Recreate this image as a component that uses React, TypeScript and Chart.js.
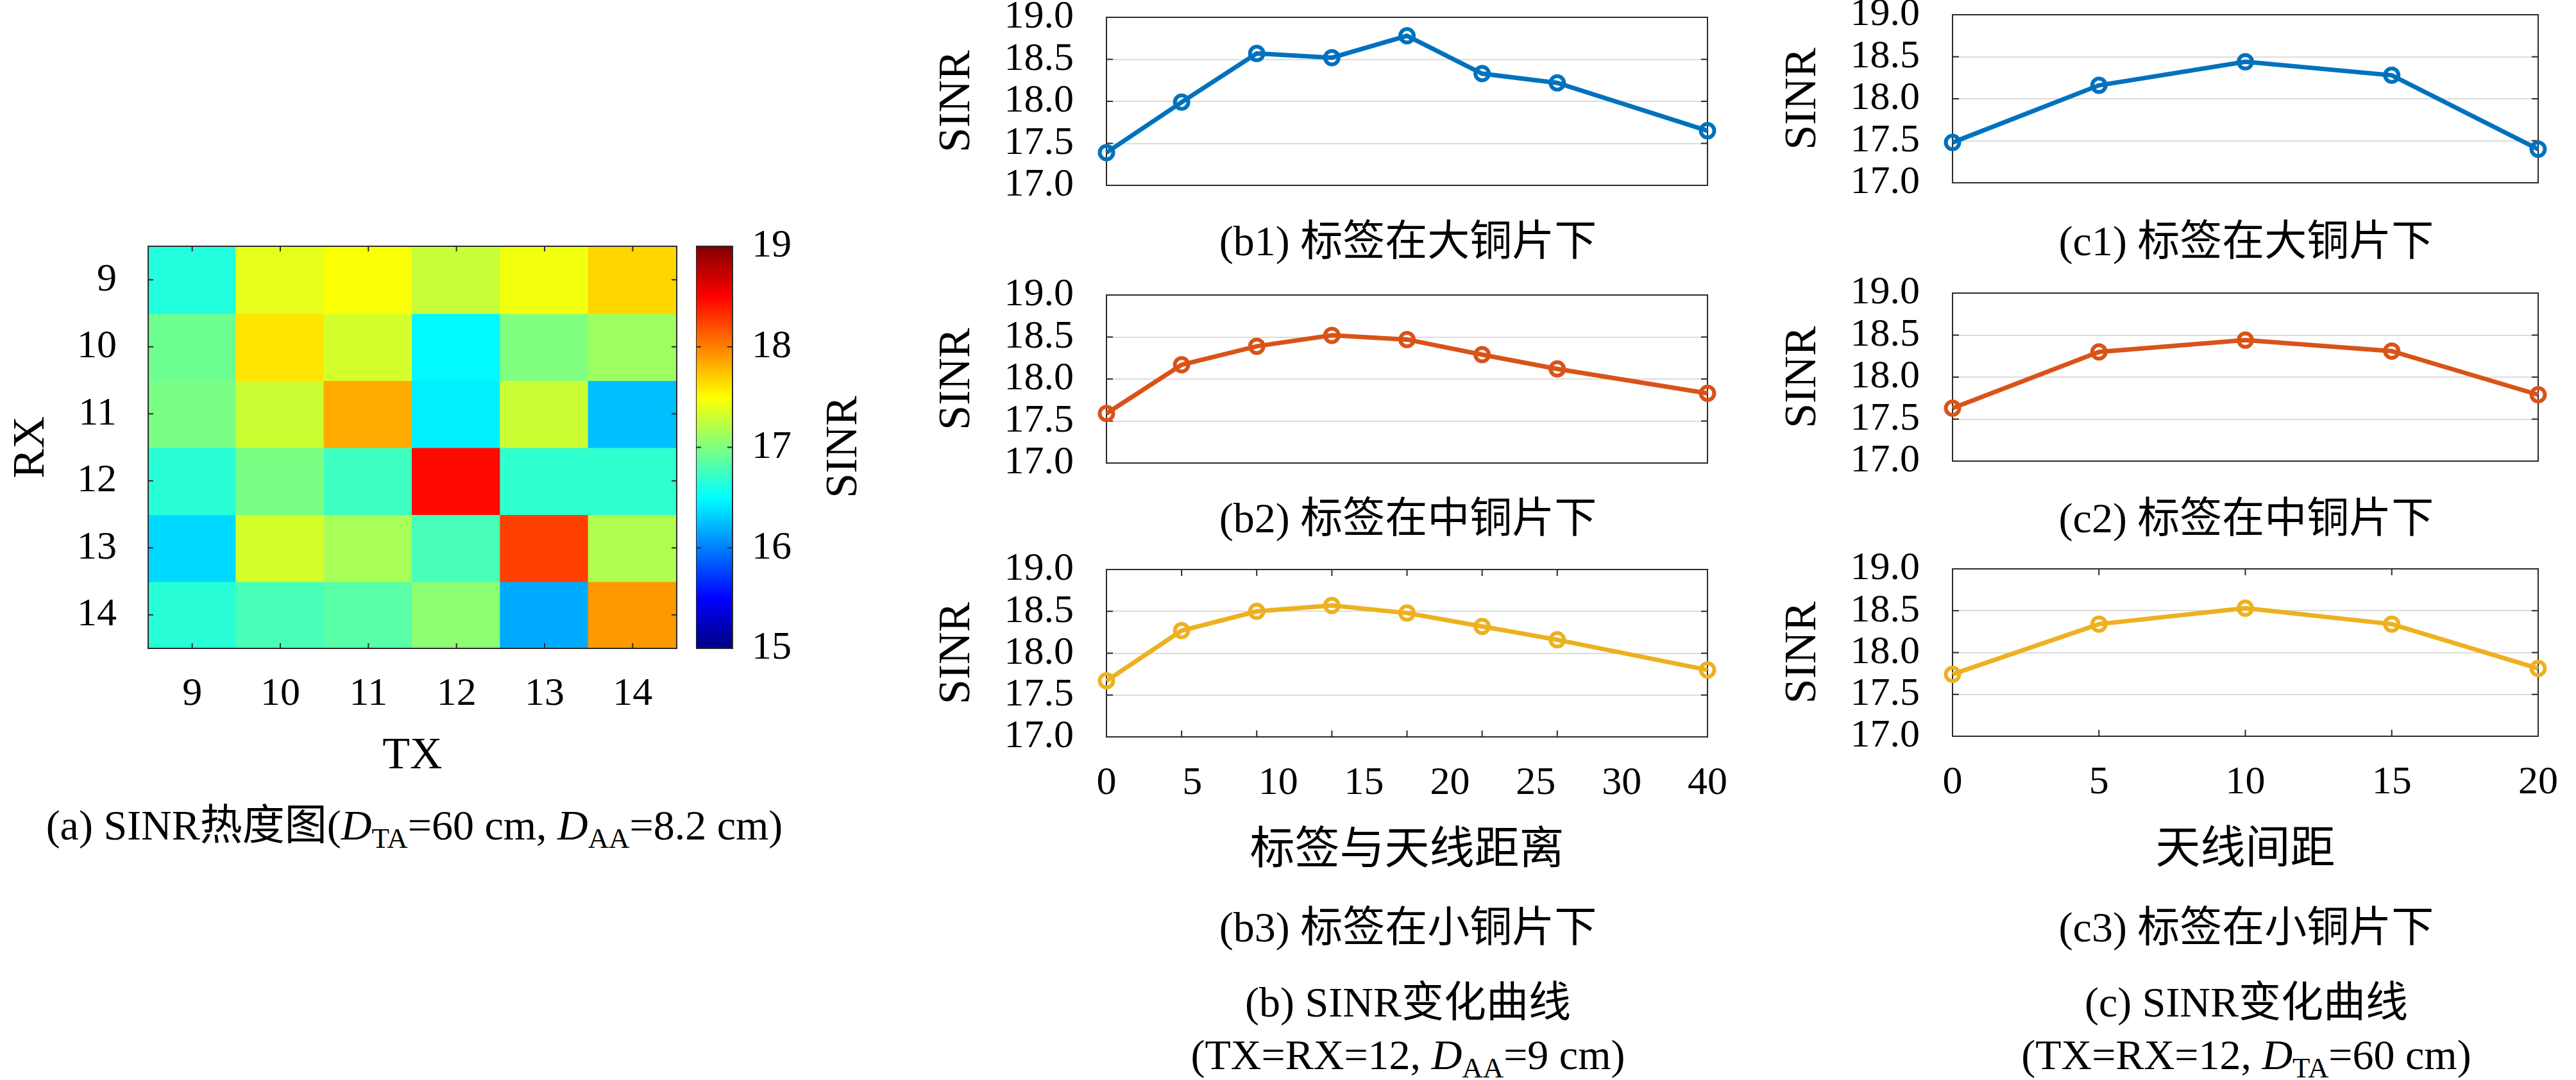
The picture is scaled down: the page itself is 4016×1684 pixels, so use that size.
import React, { useEffect, useRef } from 'react';
import { Chart, registerables } from 'chart.js';

Chart.register(...registerables);

// ---------------- data ----------------
const TX_LABELS = ['9', '10', '11', '12', '13', '14'];
const RX_LABELS = ['9', '10', '11', '12', '13', '14'];
const SINR_RX9 = [16.63, 17.4, 17.48, 17.28, 17.45, 17.66];
const SINR_RX10 = [16.93, 17.6, 17.33, 16.48, 17.0, 17.12];
const SINR_RX11 = [16.98, 17.3, 17.83, 16.44, 17.3, 16.25];
const SINR_RX12 = [16.66, 16.98, 16.74, 18.46, 16.69, 16.69];
const SINR_RX13 = [16.35, 17.33, 17.16, 16.78, 18.25, 17.19];
const SINR_RX14 = [16.66, 16.78, 16.85, 17.05, 16.17, 17.9];
const SINR_GRID = [SINR_RX9, SINR_RX10, SINR_RX11, SINR_RX12, SINR_RX13, SINR_RX14];
const CBAR_RANGE = [15, 19];

const DIST_TAG_ANT = [0, 5, 10, 15, 20, 25, 30, 40];
const DIST_TICK_LABELS = ['0', '5', '10', '15', '20', '25', '30', '40'];
const SINR_B1 = [17.39, 17.99, 18.57, 18.52, 18.78, 18.33, 18.22, 17.65];
const SINR_B2 = [17.59, 18.17, 18.39, 18.52, 18.47, 18.29, 18.12, 17.83];
const SINR_B3 = [17.67, 18.27, 18.5, 18.57, 18.48, 18.32, 18.16, 17.8];

const ANT_SPACING = [0, 5, 10, 15, 20];
const SPACING_TICK_LABELS = ['0', '5', '10', '15', '20'];
const SINR_C1 = [17.48, 18.16, 18.44, 18.28, 17.4];
const SINR_C2 = [17.63, 18.3, 18.44, 18.31, 17.79];
const SINR_C3 = [17.74, 18.34, 18.53, 18.34, 17.81];

const SINR_AXIS = [17, 19];

// ---------------- style ----------------
const FONT = "'Liberation Serif', 'Noto Sans CJK SC', serif";
const TICK_FONT = { family: FONT, size: 62, lineHeight: 1 };
const TITLE_FONT = { family: FONT, size: 70, lineHeight: 1 };
const BLUE = '#0072BD';
const ORANGE = '#D95319';
const YELLOW = '#EDB120';
const FRAME = '#2b2b2b';
const GRID = '#dcdcdc';

function jet(v: number): string {
  const t = Math.min(1, Math.max(0, (v - CBAR_RANGE[0]) / (CBAR_RANGE[1] - CBAR_RANGE[0])));
  const c = (x: number) => Math.round(255 * Math.min(1, Math.max(0, x)));
  const r = c(Math.min(4 * t - 1.5, -4 * t + 4.5));
  const g = c(Math.min(4 * t - 0.5, -4 * t + 3.5));
  const b = c(Math.min(4 * t + 0.5, -4 * t + 2.5));
  return `rgb(${r},${g},${b})`;
}

function framePlugin(
  getX: (c: any) => number[],
  getY: (c: any) => number[],
  len: number,
  after: boolean
) {
  const draw = (chart: any) => {
    const { ctx, chartArea: a } = chart;
    ctx.save();
    ctx.strokeStyle = FRAME;
    ctx.lineWidth = 2;
    ctx.beginPath();
    for (const px of getX(chart)) {
      ctx.moveTo(px, a.top);
      ctx.lineTo(px, a.top + len);
      ctx.moveTo(px, a.bottom);
      ctx.lineTo(px, a.bottom - len);
    }
    for (const py of getY(chart)) {
      ctx.moveTo(a.left, py);
      ctx.lineTo(a.left + len, py);
      ctx.moveTo(a.right, py);
      ctx.lineTo(a.right - len, py);
    }
    ctx.stroke();
    ctx.strokeRect(a.left, a.top, a.right - a.left, a.bottom - a.top);
    ctx.restore();
  };
  return after
    ? { id: 'frame', afterDatasetsDraw: draw }
    : { id: 'frame', beforeDatasetsDraw: draw };
}

function ChartBox(props: { left: number; top: number; width: number; height: number; make: (c: HTMLCanvasElement) => Chart }) {
  const ref = useRef<HTMLCanvasElement>(null);
  useEffect(() => {
    const chart = props.make(ref.current as HTMLCanvasElement);
    return () => chart.destroy();
  }, []);
  return (
    <div style={{ position: 'absolute', left: props.left, top: props.top, width: props.width, height: props.height }}>
      <canvas ref={ref} width={props.width} height={props.height} style={{ width: props.width, height: props.height, display: 'block' }} />
    </div>
  );
}

type LineSpec = {
  plotLeft: number;
  plotRight: number;
  plotTop: number;
  plotBottom: number;
  xs: number[];
  ys: number[];
  color: string;
  xLabels?: string[];
  xTitle?: string;
};

function LinePanel(p: LineSpec) {
  const AXW = 285;
  const PADR = 50;
  const padTop = Math.min(p.plotTop, 40);
  const axisH = p.xLabels ? 215 : 0;
  const padBottom = p.xLabels ? 20 : 36;
  const left = p.plotLeft - AXW;
  const top = p.plotTop - padTop;
  const width = p.plotRight - left + PADR;
  const height = p.plotBottom - top + axisH + padBottom;
  const xMax = p.xs[p.xs.length - 1];
  const innerX = p.xLabels ? p.xs.slice(1, -1) : [];
  const make = (canvas: HTMLCanvasElement) =>
    new Chart(canvas, {
      type: 'line',
      data: {
        datasets: [
          {
            data: p.xs.map((x, i) => ({ x, y: p.ys[i] })),
            borderColor: p.color,
            borderWidth: 7,
            pointRadius: 10.5,
            pointBorderWidth: 6,
            pointBorderColor: p.color,
            pointBackgroundColor: 'rgba(0,0,0,0)',
            tension: 0,
            clip: false,
            xAxisID: 'x',
            yAxisID: 'y',
          } as any,
        ],
      },
      options: {
        animation: false,
        responsive: false,
        events: [],
        layout: { padding: { left: 0, top: padTop, right: PADR, bottom: padBottom } },
        plugins: { legend: { display: false }, tooltip: { enabled: false } },
        scales: {
          x: { type: 'linear', min: 0, max: xMax, display: false },
          xl: {
            type: 'category',
            labels: p.xLabels ?? [],
            offset: false,
            position: 'bottom',
            display: !!p.xLabels,
            grid: { display: false, drawTicks: false },
            border: { display: false },
            ticks: { font: TICK_FONT, color: '#000', padding: 42, autoSkip: false, maxRotation: 0, minRotation: 0 },
            title: { display: !!p.xTitle, text: p.xTitle ?? '', font: TITLE_FONT, color: '#000', padding: 0 },
            afterFit: (s: any) => {
              s.height = axisH;
              s.paddingLeft = 0;
              s.paddingRight = 0;
            },
          },
          y: {
            type: 'linear',
            position: 'left',
            min: SINR_AXIS[0],
            max: SINR_AXIS[1],
            ticks: {
              stepSize: 0.5,
              autoSkip: false,
              font: TICK_FONT,
              color: '#000',
              padding: 51,
              callback: (v: any) => Number(v).toFixed(1),
            },
            grid: {
              drawTicks: false,
              lineWidth: 2,
              color: (ctx: any) =>
                ctx.tick && ctx.tick.value > SINR_AXIS[0] && ctx.tick.value < SINR_AXIS[1] ? GRID : 'rgba(0,0,0,0)',
            },
            border: { display: false },
            title: { display: true, text: 'SINR', font: TITLE_FONT, color: '#000', padding: { top: 18, bottom: 0 } },
            afterFit: (s: any) => {
              s.width = AXW;
              s.paddingTop = 0;
              s.paddingBottom = 0;
            },
          },
        },
      } as any,
      plugins: [
        framePlugin(
          (c) => innerX.map((v) => c.scales.x.getPixelForValue(v)),
          (c) => [17.5, 18, 18.5].map((v) => c.scales.y.getPixelForValue(v)),
          10,
          false
        ) as any,
      ],
    });
  return <ChartBox left={left} top={top} width={width} height={height} make={make} />;
}

function Heatmap() {
  const plotLeft = 231, plotRight = 1055, plotTop = 384, plotBottom = 1011;
  const padTop = 40, padRight = 10, padBottom = 10, axisH = 204;
  const left = 0;
  const top = plotTop - padTop;
  const width = plotRight + padRight;
  const height = plotBottom - top + axisH + padBottom;
  const make = (canvas: HTMLCanvasElement) =>
    new Chart(canvas, {
      type: 'bar',
      data: {
        labels: TX_LABELS,
        datasets: RX_LABELS.map((rx, r) => ({
          label: 'RX ' + rx,
          data: TX_LABELS.map(() => 1),
          backgroundColor: SINR_GRID[r].map(jet),
          borderWidth: 0,
          inflateAmount: 1,
          barPercentage: 1,
          categoryPercentage: 1,
          stack: 's',
          xAxisID: 'x',
          yAxisID: 'y',
        })) as any,
      },
      options: {
        animation: false,
        responsive: false,
        events: [],
        layout: { padding: { left: 0, top: padTop, right: padRight, bottom: padBottom } },
        plugins: { legend: { display: false }, tooltip: { enabled: false } },
        scales: {
          x: {
            type: 'category',
            stacked: true,
            offset: true,
            grid: { display: false, drawTicks: false },
            border: { display: false },
            ticks: { font: TICK_FONT, color: '#000', padding: 41, maxRotation: 0, minRotation: 0, autoSkip: false },
            title: { display: true, text: 'TX', font: TITLE_FONT, color: '#000', padding: 0 },
            afterFit: (s: any) => {
              s.height = axisH;
              s.paddingLeft = 0;
              s.paddingRight = 0;
            },
          },
          y: { type: 'linear', stacked: true, min: 0, max: RX_LABELS.length, reverse: true, display: false },
          yl: {
            type: 'category',
            labels: RX_LABELS,
            offset: true,
            position: 'left',
            grid: { display: false, drawTicks: false },
            border: { display: false },
            ticks: { font: TICK_FONT, color: '#000', padding: 49, autoSkip: false },
            title: { display: true, text: 'RX', font: TITLE_FONT, color: '#000', padding: { top: 15, bottom: 0 } },
            afterFit: (s: any) => {
              s.width = plotLeft - left;
              s.paddingTop = 0;
              s.paddingBottom = 0;
            },
          },
        },
      } as any,
      plugins: [
        framePlugin(
          (c) => TX_LABELS.map((_, i) => c.scales.x.getPixelForValue(i)),
          (c) => RX_LABELS.map((_, i) => c.scales.yl.getPixelForValue(i)),
          8,
          true
        ) as any,
      ],
    });
  return <ChartBox left={left} top={top} width={width} height={height} make={make} />;
}

function ColorBar() {
  const plotLeft = 1085, plotRight = 1142, plotTop = 384, plotBottom = 1011;
  const padTop = 40, padBottom = 40, axW = 110;
  const left = plotLeft;
  const top = plotTop - padTop;
  const width = plotRight - plotLeft + axW;
  const height = plotBottom - top + padBottom;
  const make = (canvas: HTMLCanvasElement) =>
    new Chart(canvas, {
      type: 'bar',
      data: {
        labels: ['SINR'],
        datasets: [
          {
            data: [[CBAR_RANGE[0], CBAR_RANGE[1]]],
            backgroundColor: (ctx: any) => {
              const chart = ctx.chart;
              const a = chart.chartArea;
              if (!a) return 'rgba(0,0,0,0)';
              const g = chart.ctx.createLinearGradient(0, a.bottom, 0, a.top);
              const stops = [0, 0.125, 0.375, 0.625, 0.875, 1];
              for (const s of stops) g.addColorStop(s, jet(CBAR_RANGE[0] + s * (CBAR_RANGE[1] - CBAR_RANGE[0])));
              return g;
            },
            borderWidth: 0,
            barPercentage: 1,
            categoryPercentage: 1,
            inflateAmount: 0,
          } as any,
        ],
      },
      options: {
        animation: false,
        responsive: false,
        events: [],
        layout: { padding: { left: 0, top: padTop, right: 0, bottom: padBottom } },
        plugins: { legend: { display: false }, tooltip: { enabled: false } },
        scales: {
          x: { type: 'category', display: false },
          y: {
            type: 'linear',
            position: 'right',
            min: CBAR_RANGE[0],
            max: CBAR_RANGE[1],
            ticks: { stepSize: 1, autoSkip: false, font: TICK_FONT, color: '#000', padding: 30 },
            grid: { display: false, drawTicks: false },
            border: { display: false },
            afterFit: (s: any) => {
              s.width = axW;
              s.paddingTop = 0;
              s.paddingBottom = 0;
            },
          },
        },
      } as any,
      plugins: [
        framePlugin(
          () => [],
          (c) => [16, 17, 18].map((v) => c.scales.y.getPixelForValue(v)),
          8,
          true
        ) as any,
      ],
    });
  return <ChartBox left={left} top={top} width={width} height={height} make={make} />;
}

function Label(props: { cx: number; cy: number; size: number; rotate?: number; children: React.ReactNode }) {
  const W = 2000;
  return (
    <div
      style={{
        position: 'absolute',
        left: props.cx - W / 2,
        top: props.cy - props.size / 2,
        width: W,
        height: props.size,
        fontSize: props.size,
        lineHeight: `${props.size}px`,
        textAlign: 'center',
        whiteSpace: 'nowrap',
        transform: props.rotate ? `rotate(${props.rotate}deg)` : undefined,
        transformOrigin: 'center center',
      }}
    >
      {props.children}
    </div>
  );
}

const Sub = (props: { children: React.ReactNode }) => (
  <sub style={{ fontSize: '0.68em', verticalAlign: '-0.3em', lineHeight: 0 }}>{props.children}</sub>
);

export default function App() {
  const CAP = 66;
  const B_CX = 2195;
  const C_CX = 3502;
  return (
    <div
      style={{
        position: 'absolute',
        left: 0,
        top: 0,
        width: 4016,
        height: 1684,
        background: '#fff',
        color: '#000',
        fontFamily: FONT,
        overflow: 'hidden',
      }}
    >
      <Heatmap />
      <ColorBar />
      <Label cx={1312} cy={697} size={70} rotate={-90}>SINR</Label>
      <Label cx={646} cy={1287} size={CAP}>
        (a) SINR热度图(<i>D</i><Sub>TA</Sub>=60 cm, <i>D</i><Sub>AA</Sub>=8.2 cm)
      </Label>

      <LinePanel plotLeft={1725} plotRight={2662} plotTop={27} plotBottom={289} xs={DIST_TAG_ANT} ys={SINR_B1} color={BLUE} />
      <LinePanel plotLeft={1725} plotRight={2662} plotTop={460} plotBottom={722} xs={DIST_TAG_ANT} ys={SINR_B2} color={ORANGE} />
      <LinePanel
        plotLeft={1725}
        plotRight={2662}
        plotTop={888}
        plotBottom={1149}
        xs={DIST_TAG_ANT}
        ys={SINR_B3}
        color={YELLOW}
        xLabels={DIST_TICK_LABELS}
        xTitle="标签与天线距离"
      />
      <Label cx={B_CX} cy={376} size={CAP}>(b1) 标签在大铜片下</Label>
      <Label cx={B_CX} cy={808} size={CAP}>(b2) 标签在中铜片下</Label>
      <Label cx={B_CX} cy={1446} size={CAP}>(b3) 标签在小铜片下</Label>
      <Label cx={B_CX} cy={1563} size={CAP}>(b) SINR变化曲线</Label>
      <Label cx={B_CX} cy={1645} size={CAP}>
        (TX=RX=12, <i>D</i><Sub>AA</Sub>=9 cm)
      </Label>

      <LinePanel plotLeft={3044} plotRight={3957} plotTop={23} plotBottom={285} xs={ANT_SPACING} ys={SINR_C1} color={BLUE} />
      <LinePanel plotLeft={3044} plotRight={3957} plotTop={457} plotBottom={719} xs={ANT_SPACING} ys={SINR_C2} color={ORANGE} />
      <LinePanel
        plotLeft={3044}
        plotRight={3957}
        plotTop={887}
        plotBottom={1148}
        xs={ANT_SPACING}
        ys={SINR_C3}
        color={YELLOW}
        xLabels={SPACING_TICK_LABELS}
        xTitle="天线间距"
      />
      <Label cx={C_CX} cy={376} size={CAP}>(c1) 标签在大铜片下</Label>
      <Label cx={C_CX} cy={808} size={CAP}>(c2) 标签在中铜片下</Label>
      <Label cx={C_CX} cy={1446} size={CAP}>(c3) 标签在小铜片下</Label>
      <Label cx={C_CX} cy={1563} size={CAP}>(c) SINR变化曲线</Label>
      <Label cx={C_CX} cy={1645} size={CAP}>
        (TX=RX=12, <i>D</i><Sub>TA</Sub>=60 cm)
      </Label>
    </div>
  );
}
